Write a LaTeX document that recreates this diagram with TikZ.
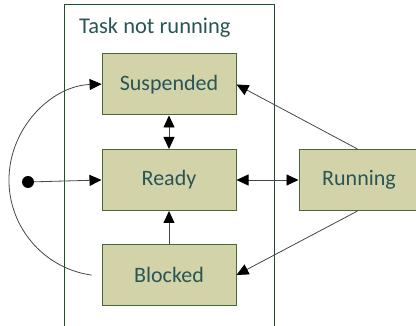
\documentclass[tikz,border=0pt]{standalone}
\usepackage{fontspec}
\setmainfont{Carlito}
\usetikzlibrary{arrows.meta}
\definecolor{statefill}{RGB}{211,211,170}
\definecolor{stateedge}{RGB}{70,105,55}
\definecolor{statetext}{RGB}{40,85,85}
\definecolor{frameedge}{RGB}{30,80,45}
\definecolor{flow}{RGB}{70,70,70}
\tikzset{
  tip/.tip={Triangle[length=12pt,width=11pt,color=black]},
  state/.style={draw=stateedge, line width=1pt, fill=statefill, minimum width=134pt,
    minimum height=61pt, inner sep=0pt, text=statetext, font=\fontsize{22}{26}\selectfont},
  flowline/.style={draw=flow, line width=0.8pt, -tip},
  twoway/.style={draw=flow, line width=0.8pt, tip-tip}
}
\begin{document}
\begin{tikzpicture}[x=1pt,y=-1pt]
\useasboundingbox (0,0) rectangle (416,326);
% group frame, open at the bottom
\draw[frameedge, line width=1pt] (64,330) -- (64,5) -- (274,5) -- (274,330);
\node[anchor=west, text=statetext, font=\fontsize{22.5}{27}\selectfont, inner sep=0pt] (title) at (79,28) {Task not running};
% states
\node[state] (susp) at (169,84.5) {Suspended};
\node[state] (ready) at (169,180) {Ready};
\node[state] (block) at (169,275) {Blocked};
\node[state, minimum width=120pt] (run) at (359,180) {Running};
% initial point
\node[circle, fill=black, minimum size=12pt, inner sep=0pt] (init) at (28,182) {};
\coordinate (arcstart) at (91.6,275.1);
% transitions
\draw[flowline] (init) -- (ready.west);
\draw[twoway] (susp.south) -- (ready.north);
\draw[flowline] (block.north) -- (ready.south);
\draw[twoway] (ready.east) -- (run.west);
\draw[flowline] (run.north -| 357.5,0) -- (susp.east);
\draw[flowline] (run.south -| 357.5,0) -- (block.east);
\draw[flowline] (arcstart) arc[start angle=98, end angle=268, radius=96];
\end{tikzpicture}
\end{document}
